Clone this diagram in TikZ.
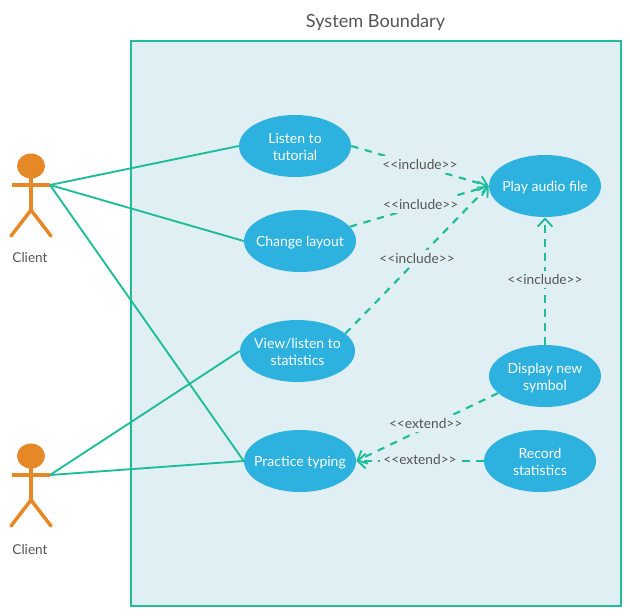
\documentclass[tikz,border=0pt]{standalone}
\usepackage{fontspec}
\setmainfont{Lato}
\usetikzlibrary{arrows.meta,shapes.geometric}
\definecolor{teal1}{HTML}{1FBC9C}
\definecolor{boxfill}{HTML}{E0EFF3}
\definecolor{usecase}{HTML}{2DB1DF}
\definecolor{actor}{HTML}{E58825}
\definecolor{txt}{HTML}{555555}
\newcommand{\uctext}[1]{\smash{\makebox[0pt]{\raisebox{-4.7pt}{\begin{tabular}{@{}c@{}}#1\end{tabular}}}}}
\newcommand{\ucline}[1]{\smash{\makebox[0pt]{\raisebox{-4pt}{\begin{tabular}{@{}c@{}}#1\end{tabular}}}}}
\tikzset{
  px/.style={x=0.75pt,y=-0.75pt},
  usecasenode/.style={ellipse,fill=usecase,draw=none,minimum width=84pt,minimum height=46.5pt,inner sep=0pt,text=white,font=\fontsize{10.5}{12.8}\selectfont},
  assoc/.style={draw=teal1,line width=1.4pt},
  dep/.style={draw=teal1,line width=1.6pt,dash pattern=on 5.5pt off 5pt,-{Straight Barb[length=6pt,width=11pt,line width=1.4pt]}},
  deplabel/.style={fill=boxfill,text=txt,inner sep=2.5pt,font=\fontsize{10.3}{12}\selectfont},
  limb/.style={draw=actor,line width=2.6pt},
  actorname/.style={text=txt,font=\fontsize{10.2}{12}\selectfont},
}
\begin{document}
\begin{tikzpicture}[px]
\useasboundingbox (0,0) rectangle (630,615);
\fill[white] (0,0) rectangle (630,615);
\node[draw=teal1,fill=boxfill,line width=1.5pt,minimum width=367.5pt,minimum height=423.75pt,inner sep=0pt] (boundary) at (376,323.5) {};
\node[text=txt,font=\fontsize{13.6}{16}\selectfont] (title) at (375.5,22) {System Boundary};
% use cases
\node[usecasenode] (listen) at (295,146) {\uctext{Listen to\\tutorial}};
\node[usecasenode] (change) at (300,241) {\ucline{Change layout}};
\node[usecasenode,minimum width=86.25pt] (view) at (297.5,351) {\uctext{View/listen to\\statistics}};
\node[usecasenode] (practice) at (300,461) {\ucline{Practice typing}};
\node[usecasenode] (play) at (545,186) {\ucline{Play audio file}};
\node[usecasenode] (display) at (545,376) {\uctext{Display new\\symbol}};
\node[usecasenode] (record) at (540,461) {\uctext{Record\\statistics}};
% actors
\foreach \n/\y in {a/0,b/290}{
  \fill[actor] (31,166+\y) ellipse [x radius=14,y radius=12.5];
  \draw[limb] (31,176+\y) -- (31,210+\y);
  \draw[limb] (12,185+\y) -- (50,185+\y);
  \draw[limb,line cap=round] (11,236+\y) -- (31,210+\y) -- (51,236+\y);
}
\coordinate (handa) at (50,185);
\coordinate (handb) at (50,475);
\node[actorname] (clienta) at (30,258) {Client};
\node[actorname] (clientb) at (30,550) {Client};
% associations
\draw[assoc] (handa) -- (listen.west);
\draw[assoc] (handa) -- (change.west);
\draw[assoc] (handa) -- (practice.west);
\draw[assoc] (handb) -- (view.west);
\draw[assoc] (handb) -- (practice.west);
% dependencies
\draw[dep] (listen.east) -- (play.west) node[pos=0.5,deplabel,yshift=1pt] (l1) {<{}<include>{}>};
\draw[dep] (change.16) -- (play.west) node[pos=0.51,deplabel,yshift=0.8pt] (l2) {<{}<include>{}>};
\draw[dep] (view.20) -- (play.west) node[pos=0.5,deplabel,yshift=0.8pt] (l3) {<{}<include>{}>};
\draw[dep] (display.north) -- (play.south) node[pos=0.52,deplabel,yshift=-0.7pt] (l4) {<{}<include>{}>};
\draw[dep] (display.200) -- (practice.east) node[pos=0.51,deplabel,yshift=3pt] (l5) {<{}<extend>{}>};
\draw[dep] (record.west) -- (practice.east) node[pos=0.5,deplabel,yshift=1pt] (l6) {<{}<extend>{}>};
\end{tikzpicture}
\end{document}
